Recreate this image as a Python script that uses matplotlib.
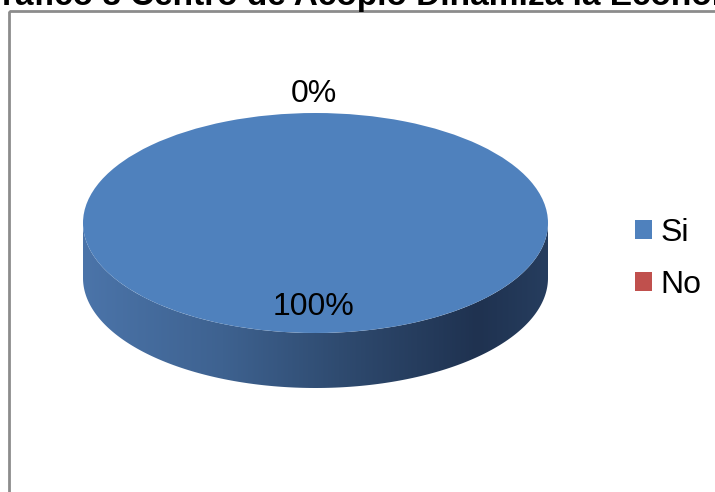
import numpy as np
import matplotlib
matplotlib.use("Agg")
import matplotlib.pyplot as plt
from matplotlib.patches import Wedge, Polygon, Rectangle, Patch
from matplotlib.transforms import Affine2D
from matplotlib.colors import LinearSegmentedColormap

plt.rcParams['font.family'] = ['Liberation Sans', 'DejaVu Sans']

title = "Gráfico 8 Centro de Acopio Dinamiza la Economía"
labels = ["Si", "No"]
values = [100, 0]
colors = ["#4f81bd", "#c0504d"]

W, H = 715, 492
fig = plt.figure(figsize=(W / 100, H / 100), dpi=100)
ax = fig.add_axes([0, 0, 1, 1])
ax.set_xlim(0, W)
ax.set_ylim(H, 0)
ax.axis("off")

# chart area border (runs off the right and bottom edges)
ax.add_patch(Rectangle((8.5, 11), 760, 520, fill=False, ec="#8c8c8c", lw=2))

# title, clipped by the top of the figure
fig.text(-24 / W, 1 - 4.5 / H, title, ha="left", va="baseline",
         fontsize=24, fontweight="bold", color="black")

# pie geometry in pixels
cx, cy = 315.5, 223
rx, ry = 232.5, 110
depth = 55

ellipse = Affine2D().scale(rx, -ry).translate(cx, cy) + ax.transData

side_cmap = LinearSegmentedColormap.from_list(
    "side", [(0.0, "#4b74a9"), (0.3, "#3e6290"), (0.55, "#2f4b70"),
             (0.85, "#1f3250"), (1.0, "#263d5e")])

total = sum(values)
start = 90.0
angles = []
for v in values:
    span = 360.0 * v / total
    angles.append((start - span, start))
    start -= span


def arc(t1, t2, dy=0.0, n=200):
    t = np.radians(np.linspace(t1, t2, n))
    return np.column_stack([cx + rx * np.cos(t), cy - ry * np.sin(t) + dy])


# side walls: the front half of each slice (angles between 180 and 360)
for (a1, a2), v in zip(angles, values):
    if v == 0:
        continue
    lo, hi = a1 % 360, a1 % 360 + (a2 - a1)
    for base in (-360, 0, 360):
        s1 = max(lo + base, 180)
        s2 = min(hi + base, 360)
        if s2 <= s1:
            continue
        top = arc(s1, s2)
        bot = arc(s2, s1, dy=depth)
        poly = Polygon(np.vstack([top, bot]), closed=True, fc="none", ec="none")
        ax.add_patch(poly)
        grad = np.linspace(0, 1, 256).reshape(1, -1)
        im = ax.imshow(grad, cmap=side_cmap, aspect="auto",
                       extent=(cx - rx, cx + rx, cy + ry + depth + 2, cy - 2),
                       zorder=1)
        im.set_clip_path(poly)

# top face
for (a1, a2), v, c in zip(angles, values, colors):
    if v == 0:
        continue
    ax.add_patch(Wedge((0, 0), 1, a1, a2, transform=ellipse, fc=c,
                       ec="none", zorder=2))

# percentage labels
for (a1, a2), v in zip(angles, values):
    mid = np.radians((a1 + a2) / 2)
    share = v / total
    r = 0.76 if share > 0 else 1.17
    x = cx + r * rx * np.cos(mid) - 2
    y = cy - r * ry * np.sin(mid)
    ax.text(x, y, f"{share:.0%}", ha="center", va="center", fontsize=23,
            color="black", zorder=3)

handles = [Patch(fc=c, ec="none") for c in colors]
ax.legend(handles, labels, loc="center left", bbox_to_anchor=(622 / W, 1 - 259 / H),
          frameon=False, fontsize=23, handlelength=0.55, handleheight=0.55,
          handletextpad=0.25, labelspacing=0.68, borderaxespad=0)

fig.savefig("out.png", dpi=100, facecolor="white")
